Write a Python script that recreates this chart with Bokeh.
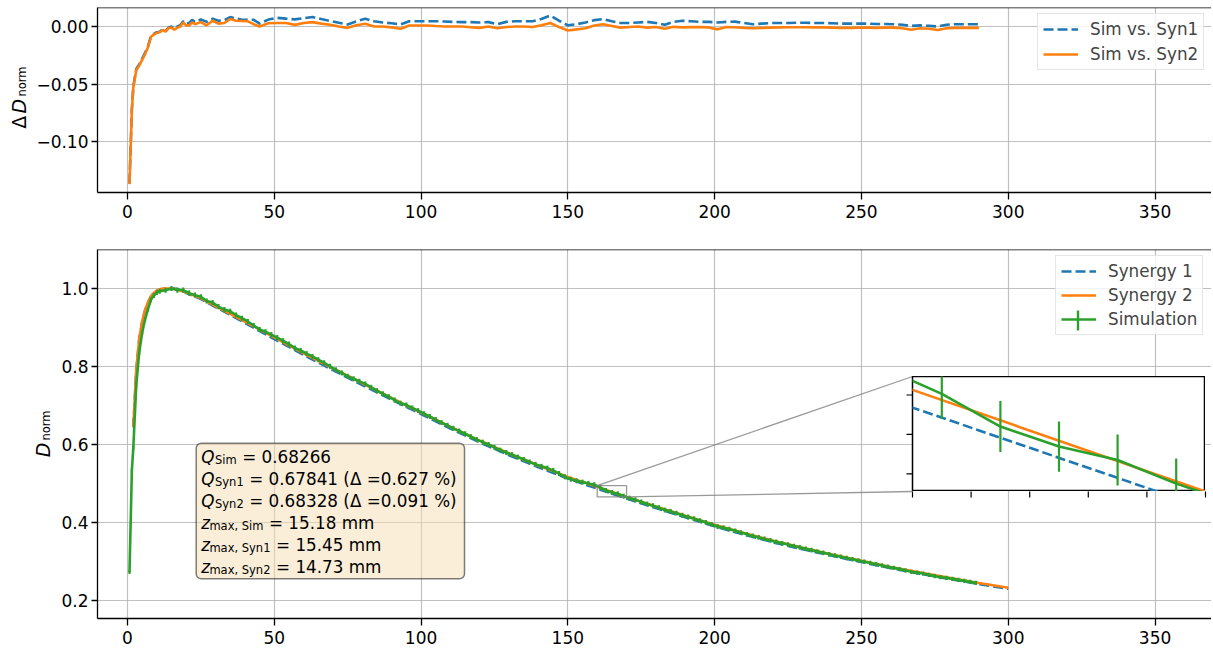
import numpy as np
from bokeh.plotting import figure
from bokeh.models import (Range1d, FixedTicker, Legend, LegendItem, BoxAnnotation,
                          ColumnDataSource, Span, CustomJSTickFormatter)
from bokeh.layouts import column
from bokeh.embed import file_html
from bokeh.resources import INLINE
from bokeh.core.properties import value

# ---------------- data ----------------
dd_x = [0.7, 1.5, 2, 3, 4, 5, 6, 7, 8, 9, 10, 11, 12, 13, 14, 15, 16, 17, 18, 19, 20, 21, 22, 23,
        25, 27, 29, 31, 33, 35, 37, 39, 41, 43, 45,
        48, 51, 54, 57, 60, 63, 66, 69, 72, 75, 78, 81, 84, 87, 90, 93, 96, 99,
        102, 105, 108, 111, 114, 117, 120, 123, 126, 129, 132, 135, 138, 141, 144, 147,
        150, 153, 156, 159, 162, 165, 168, 171, 174, 177, 180, 183, 186, 189, 192, 195, 198,
        201, 204, 207, 210, 213, 216, 219, 222, 225, 228, 231, 234, 237, 240, 243, 246, 249,
        252, 255, 258, 261, 264, 267, 270, 273, 276, 279, 282, 285, 288, 290]
dd_syn2 = [-0.137, -0.073, -0.053, -0.038, -0.034, -0.029, -0.024, -0.018, -0.009, -0.007, -0.0055,
           -0.005, -0.003, -0.0045, -0.0015, -0.001, -0.0028, -0.001, 0.0, 0.0035, 0.001, 0.001, 0.0035, 0.002,
           0.0038, 0.001, 0.005, 0.0025, 0.003, 0.0065, 0.005, 0.0048, 0.0045, 0.002, 0.0,
           0.0028, 0.003, 0.003, 0.0014, 0.003, 0.0038, 0.0025, 0.0015, 0.0, -0.0012, 0.001, 0.0023, 0.0,
           0.0, -0.0008, -0.002, 0.0009, 0.0009,
           0.0009, 0.0004, 0.0, 0.0, 0.0, -0.0006, -0.0012, 0.0, -0.0015, -0.0005, 0.0, 0.0, -0.0004,
           0.001, 0.003, -0.0005,
           -0.0035, -0.0025, -0.0015, 0.0008, 0.002, 0.0005, -0.001, -0.0005, 0.0, -0.001, -0.0005,
           -0.002, -0.0003, -0.0008, -0.0005, -0.0006, -0.0008,
           -0.0025, -0.0005, -0.0007, -0.0012, -0.0015, -0.0012, -0.001, -0.0008, -0.0007, -0.0007,
           -0.0007, -0.0008, -0.0008, -0.001, -0.0012, -0.0012, -0.001,
           -0.001, -0.0012, -0.001, -0.001, -0.0015, -0.0028, -0.0015, -0.002, -0.003, -0.0015,
           -0.0012, -0.0012, -0.0012, -0.0012]
dd_syn1 = [-0.1365, -0.072, -0.052, -0.037, -0.033, -0.028, -0.023, -0.017, -0.0085, -0.0065, -0.005,
           -0.0045, -0.0025, -0.004, -0.001, 0.0, -0.002, 0.0, 0.001, 0.0045, 0.0025, 0.003, 0.0058, 0.004,
           0.006, 0.004, 0.0068, 0.005, 0.0055, 0.0082, 0.007, 0.0058, 0.0058, 0.0058, 0.0025,
           0.006, 0.0075, 0.0068, 0.0062, 0.0072, 0.0082, 0.0065, 0.0048, 0.0032, 0.0018, 0.0045, 0.0068,
           0.0045, 0.0035, 0.0028, 0.0017, 0.0046, 0.0046,
           0.0046, 0.0046, 0.0043, 0.004, 0.0038, 0.0038, 0.0035, 0.0038, 0.002, 0.004, 0.0046, 0.0046,
           0.0046, 0.0065, 0.0095, 0.005,
           0.001, 0.002, 0.0035, 0.0055, 0.0065, 0.0045, 0.003, 0.003, 0.0035, 0.004, 0.003,
           0.0015, 0.004, 0.005, 0.0045, 0.004, 0.004,
           0.0035, 0.004, 0.0042, 0.003, 0.002, 0.0025, 0.003, 0.003, 0.003, 0.0032,
           0.0032, 0.003, 0.003, 0.0028, 0.0025, 0.0025, 0.0025,
           0.0025, 0.0022, 0.0022, 0.002, 0.0015, 0.0005, 0.001, 0.0005, 0.0, 0.0015,
           0.002, 0.002, 0.002, 0.002]

syn_x = [2, 3, 4, 5, 6, 7, 8, 9, 10, 12, 14, 16, 18, 20, 25, 30,
         40, 50, 60, 70, 80, 90, 100, 110, 120, 130, 140, 150, 160, 170, 180, 190, 200,
         210, 220, 230, 240, 250, 260, 270, 280, 290, 300]
syn1_d = [0.644, 0.789, 0.869, 0.914, 0.944, 0.964, 0.979, 0.988, 0.994, 0.999, 1.0, 1.0, 0.997,
          0.9885, 0.973, 0.9525,
          0.912, 0.8705, 0.8298, 0.7905, 0.7525, 0.7148, 0.678, 0.641, 0.6055, 0.5725, 0.5415,
          0.5125, 0.4868, 0.4613, 0.4372, 0.4132, 0.3902, 0.3692, 0.3492, 0.3312, 0.3145,
          0.2987, 0.2828, 0.2688, 0.2552, 0.2422, 0.2300]
syn2_d = [0.645, 0.79, 0.87, 0.915, 0.945, 0.965, 0.98, 0.989, 0.995, 1.0, 1.0, 0.999, 0.995,
          0.99, 0.975, 0.955,
          0.915, 0.875, 0.834, 0.795, 0.757, 0.719, 0.682, 0.645, 0.61, 0.577, 0.546,
          0.517, 0.4913, 0.4655, 0.441, 0.417, 0.394, 0.373, 0.353, 0.335, 0.318,
          0.302, 0.286, 0.272, 0.258, 0.245, 0.2326]

sim_x = [0.7, 1.5, 2, 3, 4, 5, 6, 7, 8, 9, 10,
         11, 13, 15, 17, 19, 21, 23, 25, 27, 29,
         31, 33, 35, 37, 39, 41, 43, 45, 47, 49,
         51, 53, 55, 57, 59, 61, 63, 65, 67, 69,
         71, 73, 75, 77, 79, 81, 83, 85, 87, 89,
         91, 93, 95, 97, 99, 101, 103, 105, 107, 109,
         111, 113, 115, 117, 119, 121, 123, 125, 127, 129,
         131, 133, 135, 137, 139, 141, 143, 145, 147, 149,
         151, 153, 155, 157, 159, 161, 163, 165, 167, 169,
         171, 173, 175, 177, 179, 181, 183, 185, 187, 189,
         191, 193, 195, 197, 199, 201, 203, 205, 207, 209,
         211, 213, 215, 217, 219, 221, 223, 225, 227, 229,
         231, 233, 235, 237, 239, 241, 243, 245, 247, 249,
         251, 253, 255, 257, 259, 261, 263, 265, 267, 269,
         271, 273, 275, 277, 279, 281, 283, 285, 287, 289]
sim_d = [0.272, 0.533, 0.592, 0.752, 0.836, 0.886, 0.921, 0.947, 0.971, 0.982, 0.9895,
         0.993, 0.9955, 1.0, 0.996, 0.996, 0.988, 0.983, 0.9788, 0.968, 0.964,
         0.9535, 0.946, 0.9415, 0.932, 0.9238, 0.9155, 0.905, 0.895, 0.889, 0.8818,
         0.874, 0.866, 0.8575, 0.8474, 0.841, 0.833, 0.8258, 0.8175, 0.8095, 0.8005,
         0.7915, 0.7835, 0.7748, 0.7685, 0.762, 0.7553, 0.7465, 0.738, 0.730, 0.7225,
         0.714, 0.706, 0.701, 0.6939, 0.6869, 0.6789, 0.6718, 0.6639, 0.6562, 0.649,
         0.6415, 0.6345, 0.6275, 0.6199, 0.6125, 0.606, 0.600, 0.5925, 0.5855, 0.5795,
         0.574, 0.5677, 0.5615, 0.555, 0.549, 0.544, 0.5395, 0.5335, 0.5255, 0.517,
         0.5109, 0.5068, 0.5035, 0.5002, 0.4969, 0.4903, 0.482, 0.4769, 0.4735, 0.4675,
         0.4625, 0.458, 0.4528, 0.4474, 0.443, 0.4381, 0.4318, 0.4285, 0.4239, 0.4186,
         0.4141, 0.4096, 0.4049, 0.4001, 0.3953, 0.3894, 0.3867, 0.3829, 0.3786, 0.3741,
         0.3698, 0.3655, 0.3617, 0.3578, 0.354, 0.3503, 0.3468, 0.3433, 0.3397, 0.3361,
         0.3326, 0.3291, 0.3257, 0.3223, 0.3187, 0.3154, 0.312, 0.3088, 0.3056, 0.3026,
         0.2994, 0.2962, 0.2928, 0.2898, 0.2866, 0.2836, 0.2805, 0.277, 0.2734, 0.2714,
         0.2691, 0.2658, 0.2623, 0.2597, 0.2579, 0.2554, 0.2529, 0.2503, 0.2477, 0.2451]
sim_err = [0.004, 0.005, 0.005, 0.006, 0.006, 0.006, 0.006, 0.0062, 0.0062, 0.0063, 0.0063,
           0.0066, 0.0067, 0.0066, 0.0067, 0.0066, 0.0066, 0.0067, 0.0066, 0.0066, 0.0067,
           0.0066, 0.0066, 0.0065, 0.0066, 0.0066, 0.0065, 0.0066, 0.0065, 0.0066, 0.0065,
           0.0065, 0.0066, 0.0065, 0.0065, 0.0066, 0.0065, 0.0065, 0.0064, 0.0065, 0.0065,
           0.0064, 0.0065, 0.0064, 0.0065, 0.0064, 0.0064, 0.0065, 0.0064, 0.0064, 0.0065,
           0.0064, 0.0064, 0.0065, 0.0064, 0.0064, 0.0064, 0.0065, 0.0064, 0.0064, 0.0064,
           0.0064, 0.0065, 0.0064, 0.0064, 0.0064, 0.0064, 0.0065, 0.0064, 0.0064, 0.0064,
           0.0064, 0.0064, 0.0064, 0.0065, 0.0064, 0.0064, 0.0064, 0.0064, 0.0064, 0.0064,
           0.0064, 0.0064, 0.0064, 0.0064, 0.0064, 0.0064, 0.0065, 0.0064, 0.0065, 0.0064,
           0.0063, 0.0064, 0.0063, 0.0063, 0.0064, 0.0063, 0.0063, 0.0063, 0.0063, 0.0062,
           0.0063, 0.0062, 0.0062, 0.0062, 0.0062, 0.0062, 0.0061, 0.0062, 0.0061, 0.0061,
           0.0061, 0.0061, 0.006, 0.0061, 0.006, 0.006, 0.006, 0.006, 0.0059, 0.006,
           0.0059, 0.0059, 0.0059, 0.0058, 0.0059, 0.0058, 0.0058, 0.0058, 0.0057, 0.0058,
           0.0057, 0.0057, 0.0056, 0.0057, 0.0056, 0.0056, 0.0056, 0.0055, 0.0056, 0.0055,
           0.0055, 0.0055, 0.0054, 0.0055, 0.0054, 0.0054, 0.0054, 0.0053, 0.0054, 0.0053]

x_ticks = [0, 50, 100, 150, 200, 250, 300, 350]
dd_ticks = [-0.10, -0.05, 0.00]
d_ticks = [0.2, 0.4, 0.6, 0.8, 1.0]
inset_x_ticks = [160, 162, 164, 166, 168, 170]
inset_y_ticks = [0.47, 0.48, 0.49]

q_names = ["Sim", "Syn1", "Syn2"]
q_values = ["0.68266", "0.67841", "0.68328"]
q_deltas = [None, "0.627", "0.091"]
zmax_values = ["15.18", "15.45", "14.73"]

# ---------------- layout / style ----------------
FONT = "DejaVu Sans"
BLUE, ORANGE, GREEN = "#1f77b4", "#ff7f0e", "#2ca02c"
GRID = "#b0b0b0"
LW = 2.6

FRAME_L, FRAME_R = 97, 1211           # page px
FW = FRAME_R - FRAME_L
PXU = 2.936                           # px per mm
X0 = -10.2
X1 = X0 + FW / PXU
P1_TOP, P1_FH = 7, 185
Y1A, Y1B = -0.1443, 0.0165
P1_H = 230
P2_TOP, P2_FH = 249, 369
Y2A, Y2B = 0.1538, 1.1
TOTAL_H = 650
INSET = dict(left=912, top=376, right=1205, bottom=491)   # page px of inset frame
INSET_XR = (160, 170)
INSET_YR = (0.4655, 0.4947)
LEG2 = dict(left=1055, top=257, pad=5, glyph=35, row=20, spacing=4)


def xd(px):
    return X0 + (px - FRAME_L) / FW * (X1 - X0)


def yd2(py):
    return Y2B - (py - P2_TOP) / P2_FH * (Y2B - Y2A)


def fmt(n):
    return CustomJSTickFormatter(code="return tick.toFixed(%d).replace('-', '\\u2212');" % n)


def style(p, yticks, ydec, top_y):
    p.outline_line_color = None
    p.xaxis.ticker = FixedTicker(ticks=x_ticks)
    p.yaxis.ticker = FixedTicker(ticks=yticks)
    p.xgrid.ticker = FixedTicker(ticks=x_ticks)
    p.ygrid.ticker = FixedTicker(ticks=yticks)
    p.xaxis.formatter = fmt(0)
    p.yaxis.formatter = fmt(ydec)
    for g in (p.xgrid, p.ygrid):
        g.grid_line_color = GRID
        g.grid_line_width = 1.2
        g.grid_line_alpha = 0.8
    for ax in (p.xaxis, p.yaxis):
        ax.axis_line_color = "black"
        ax.axis_line_width = 1.3
        ax.major_tick_line_color = "black"
        ax.major_tick_line_width = 1.3
        ax.minor_tick_line_color = None
        ax.major_tick_in = 0
        ax.major_label_text_font = FONT
        ax.major_label_text_font_size = "17px"
        ax.major_label_text_color = "black"
    p.xaxis.major_tick_out = 7
    p.xaxis.major_label_standoff = 5
    p.yaxis.major_tick_out = 6
    p.yaxis.major_label_standoff = 3
    p.add_layout(Span(location=top_y, dimension="width", line_color="black", line_width=1.3))


def legend(items, loc, spacing):
    return Legend(items=items, location=loc, margin=0, padding=5, spacing=spacing,
                  glyph_width=35, glyph_height=20, label_height=20, label_standoff=12,
                  label_text_font=FONT, label_text_font_size="16.8px",
                  border_line_color="#cccccc", border_line_width=1,
                  background_fill_color="white", background_fill_alpha=0.8)


def bare(p):
    p.xaxis.visible = False
    p.yaxis.visible = False
    p.grid.visible = False


def overlay(px_left, px_right):
    """Transparent figure whose frame covers page x px_left..px_right and the full height,
    with data coordinates equal to page pixels (y measured upward from the bottom)."""
    o = figure(frame_width=px_right - px_left, frame_height=TOTAL_H,
               x_range=Range1d(px_left, px_right), y_range=Range1d(0, TOTAL_H),
               output_backend="svg", toolbar_location=None, title=None, min_border_left=FRAME_L,
               min_border_bottom=0, min_border_top=0, min_border_right=0)
    bare(o)
    o.background_fill_color = None
    o.border_fill_color = None
    o.outline_line_color = None
    o.styles = {"position": "absolute", "left": "%dpx" % (px_left - FRAME_L), "top": "0px",
                "z-index": "6"}
    return o


def oy(py):
    return TOTAL_H - py


# ---------------- top figure ----------------
p1 = figure(frame_width=FW, frame_height=P1_FH, x_range=Range1d(X0, X1), y_range=Range1d(Y1A, Y1B),
            output_backend="svg", toolbar_location=None, title=None,
            min_border_left=FRAME_L, min_border_right=0, min_border_top=P1_TOP,
            min_border_bottom=P1_H - P1_TOP - P1_FH)
style(p1, dd_ticks, 2, Y1B)
rb1 = p1.line(dd_x, dd_syn1, line_color=BLUE, line_width=LW, line_dash="10 4")
ro1 = p1.line(dd_x, dd_syn2, line_color=ORANGE, line_width=LW)
p1.add_layout(legend([LegendItem(label="Sim vs. Syn1", renderers=[rb1]),
                      LegendItem(label="Sim vs. Syn2", renderers=[ro1])],
                     (1037 - FRAME_L, P1_TOP + P1_FH - 70), 5))

# ---------------- bottom figure ----------------
p2 = figure(frame_width=FW, frame_height=P2_FH, x_range=Range1d(X0, X1), y_range=Range1d(Y2A, Y2B),
            output_backend="svg", toolbar_location=None, title=None,
            min_border_left=FRAME_L, min_border_right=0, min_border_top=P2_TOP - P1_H,
            min_border_bottom=TOTAL_H - P2_TOP - P2_FH)
style(p2, d_ticks, 1, Y2B)

sim_lo = np.array(sim_d) - np.array(sim_err)
sim_hi = np.array(sim_d) + np.array(sim_err)


def draw_curves(p):
    r1 = p.line(syn_x, syn1_d, line_color=BLUE, line_width=LW, line_dash="10 4")
    r2 = p.line(syn_x, syn2_d, line_color=ORANGE, line_width=LW)
    p.segment(x0=sim_x, y0=sim_lo, x1=sim_x, y1=sim_hi, line_color=GREEN, line_width=2.2)
    r3 = p.line(sim_x, sim_d, line_color=GREEN, line_width=LW)
    return r1, r2, r3


# info box (behind the text)
p2.add_layout(BoxAnnotation(left=xd(195.7), right=xd(464), top=yd2(442.7), bottom=yd2(578.3),
                            fill_color="#F5DEB3", fill_alpha=0.5, line_color="black", line_alpha=0.5,
                            line_width=1.5, border_radius=5, level="underlay"))

r1, r2, r3 = draw_curves(p2)
p2.add_layout(legend([LegendItem(label="Synergy 1", renderers=[r1]),
                      LegendItem(label="Synergy 2", renderers=[r2]),
                      LegendItem(label="Simulation", renderers=[r3])],
                     (LEG2["left"] - FRAME_L, P2_TOP + P2_FH - 335), LEG2["spacing"]))

# text of the info box, built as main symbol + subscript + rest
EM = {" ": .318, "%": .950, "(": .390, ")": .390, ",": .318, ".": .318, "=": .838,
      "S": .635, "a": .613, "i": .278, "m": .974, "n": .634, "x": .592, "y": .592, "Δ": .684}
for d in "0123456789":
    EM[d] = .636


def tw(s, fs):
    return sum(EM.get(c, .6) for c in s) * fs


BOX_FS, SUB_FS = 16.8, 11.5
frag = dict(x=[], y=[], t=[], fs=[], st=[])


def add(px, py, t, fs, st):
    frag["x"].append(xd(px)); frag["y"].append(yd2(py)); frag["t"].append(t)
    frag["fs"].append("%.1fpx" % fs); frag["st"].append(st)


lines = []
for nm, qv, dl in zip(q_names, q_values, q_deltas):
    rest = "= " + qv + ("" if dl is None else " (Δ =" + dl + " %)")
    lines.append(("Q", nm, rest, 13.8))
for nm, zv in zip(q_names, zmax_values):
    lines.append(("z", "max, " + nm, "= " + zv + " mm", 8.2))
for i, (sym, sub, rest, sub_dx) in enumerate(lines):
    base_y = 456.7 + 22.0 * i
    x0 = 200.7
    add(x0, base_y, sym, BOX_FS, "italic")
    add(x0 + sub_dx, base_y + 3.0, sub, SUB_FS, "normal")
    add(x0 + sub_dx + tw(sub, SUB_FS) + 5.5, base_y, rest, BOX_FS, "normal")

p2.text(x="x", y="y", text="t", text_font_size="fs", text_font_style="st", source=ColumnDataSource(frag),
        text_font=value(FONT), text_color="black", text_align="left", text_baseline="alphabetic")

# zoom indicator and connectors
p2.add_layout(BoxAnnotation(left=INSET_XR[0], right=INSET_XR[1], bottom=INSET_YR[0], top=INSET_YR[1],
                            fill_alpha=0, line_color="#808080", line_alpha=0.8, line_width=1.3))
p2.segment(x0=[INSET_XR[0], INSET_XR[1]], y0=[INSET_YR[1], INSET_YR[0]],
           x1=[xd(INSET["left"]), xd(INSET["left"])], y1=[yd2(INSET["top"]), yd2(INSET["bottom"])],
           line_color="#808080", line_alpha=0.8, line_width=1.3)

# ---------------- inset figure ----------------
IW = INSET["right"] - INSET["left"]
IH = INSET["bottom"] - INSET["top"]
ins = figure(frame_width=IW, frame_height=IH, x_range=Range1d(*INSET_XR), y_range=Range1d(*INSET_YR),
             output_backend="svg", toolbar_location=None, title=None, min_border_left=FRAME_L,
             min_border_bottom=0, min_border_top=0, min_border_right=0)
bare(ins)
ins.border_fill_color = None
ins.outline_line_color = "black"
ins.outline_line_width = 1.5
draw_curves(ins)
ins.styles = {"position": "absolute", "left": "%dpx" % (INSET["left"] - FRAME_L),
              "top": "%dpx" % INSET["top"], "z-index": "5"}

# ---------------- overlay 1: y-axis labels ----------------
ov1 = overlay(0, 110)
lab = dict(x=[18, 18, 21, 42, 45],
           y=[oy(128.3), oy(113.0), oy(96.0), oy(456.7), oy(440.0)],
           t=["Δ", "D", "norm", "D", "norm"],
           fs=["19px", "19px", "11.5px", "19px", "11.5px"],
           st=["normal", "italic", "normal", "italic", "normal"])
ov1.text(x="x", y="y", text="t", text_font_size="fs", text_font_style="st", source=ColumnDataSource(lab),
         angle=np.pi / 2, text_font=value(FONT), text_color="black", text_align="left",
         text_baseline="alphabetic")

# ---------------- overlay 2: inset ticks and legend error bar ----------------
ov2 = overlay(800, FRAME_R)
tx = [INSET["left"] + (t - INSET_XR[0]) / (INSET_XR[1] - INSET_XR[0]) * IW for t in inset_x_ticks]
ty = [INSET["top"] + (INSET_YR[1] - t) / (INSET_YR[1] - INSET_YR[0]) * IH for t in inset_y_ticks]
ov2.segment(x0=tx, x1=tx, y0=[oy(INSET["bottom"])] * len(tx), y1=[oy(INSET["bottom"] + 6)] * len(tx),
            line_color="black", line_width=1.2)
ov2.segment(x0=[INSET["left"]] * len(ty), x1=[INSET["left"] - 6] * len(ty), y0=[oy(v) for v in ty],
            y1=[oy(v) for v in ty], line_color="black", line_width=1.2)
gx = LEG2["left"] + LEG2["pad"] + LEG2["glyph"] / 2
gy = LEG2["top"] + LEG2["pad"] + 2 * (LEG2["row"] + LEG2["spacing"]) + LEG2["row"] / 2
ov2.segment(x0=[gx], x1=[gx], y0=[oy(gy - 10)], y1=[oy(gy + 10)], line_color=GREEN, line_width=2.4)

root = column(p1, p2, ins, ov1, ov2)
open("out.html", "w").write(file_html(root, INLINE))
